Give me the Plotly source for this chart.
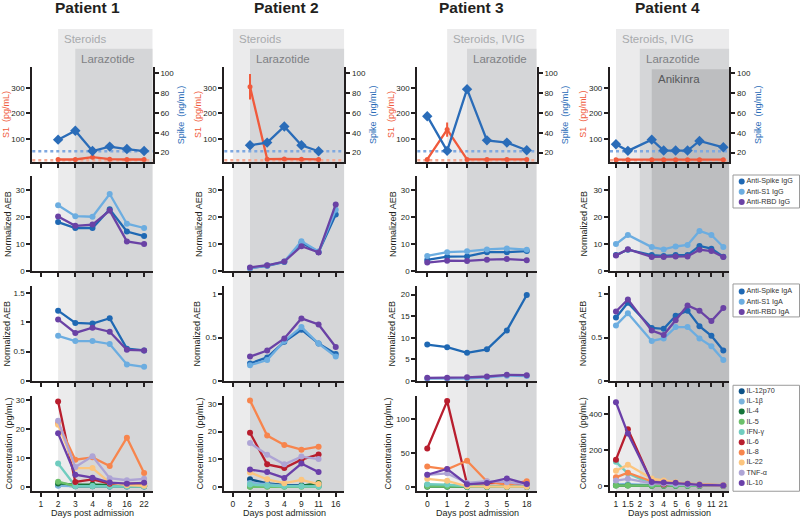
import plotly.graph_objects as go

W, H = 800, 522
FONT = "Liberation Sans, Arial, Helvetica, sans-serif"
INK = "#231f20"

# ---------------- data ----------------
patient_titles = ["Patient 1", "Patient 2", "Patient 3", "Patient 4"]
days_p1 = ["1", "2", "3", "4", "8", "16", "22"]
days_p2 = ["0", "2", "3", "4", "9", "11", "16"]
days_p3 = ["0", "1", "2", "3", "5", "18"]
days_p4 = ["1", "1.5", "2", "3", "4", "5", "6", "9", "11", "21"]

# treatment windows: (label, index of first day)
treat_p1 = [("Steroids", 1), ("Larazotide", 2)]
treat_p2 = [("Steroids", 0), ("Larazotide", 1)]
treat_p3 = [("Steroids, IVIG", 1), ("Larazotide", 2)]
treat_p4 = [("Steroids, IVIG", 0), ("Larazotide", 2), ("Anikinra", 3)]

# S1 (pg/mL) and Spike (ng/mL)
s1_p1 = [None, 18.6, 18.6, 27.5, 19.7, 18.6, 18.6]
s1_p2 = [None, 304, 20, 21, 20, 19, None]
s1_p3 = [19, 136, 19, 19, 19, 19]
s1_p4 = [18, 18, None, 18, 18, 18, 18, 18, None, 18]
s1_err_p1 = [0, 0, 0, 0, 0, 0, 0]
s1_err_p2 = [0, 50, 0, 0, 0, 0, 0]
s1_err_p3 = [0, 28, 0, 0, 0, 0]
s1_err_p4 = [0, 0, 0, 0, 0, 0, 0, 0, 0, 0]
spike_p1 = [None, 33, 42, 21.5, 26, 23.5, 21.5]
spike_p2 = [None, 27.3, 30, 46.3, 27.3, 21.3, None]
spike_p3 = [56.7, 21.7, 84, 32.3, 30, 22.3]
spike_p4 = [28.3, 21.7, None, 33, 22, 22, 22, 31.7, None, 25.3]
s1_lod = 16
spike_lod = 21.3

# IgG (normalized AEB): anti-Spike, anti-S1, anti-RBD
igg_spike_p1 = [None, 18.2, 16.0, 16.0, 23.0, 14.7, 13.0]
igg_s1_p1 = [None, 24.5, 20.4, 20.2, 28.7, 17.6, 16.0]
igg_rbd_p1 = [None, 20.3, 16.8, 17.3, 22.5, 11.0, 10.0]
igg_spike_p2 = [None, 1.0, 1.9, 3.3, 10.5, 7.0, 21.0]
igg_s1_p2 = [None, 1.0, 2.0, 3.5, 11.1, 7.2, 22.8]
igg_rbd_p2 = [None, 1.3, 2.1, 3.5, 9.2, 6.9, 24.8]
igg_spike_p3 = [4.1, 5.3, 5.4, 7.0, 7.0, 7.4]
igg_s1_p3 = [5.6, 7.0, 7.3, 8.0, 8.4, 7.9]
igg_rbd_p3 = [3.1, 3.8, 3.7, 4.2, 4.4, 4.0]
igg_spike_p4 = [5.9, 7.9, None, 5.9, 5.6, 5.9, 5.9, 9.3, 8.3, 5.3]
igg_s1_p4 = [10.0, 13.4, None, 8.9, 8.0, 9.1, 9.7, 14.9, 13.4, 8.9]
igg_rbd_p4 = [5.7, 8.1, None, 5.2, 5.2, 5.4, 5.4, 7.9, 7.4, 5.2]

# IgA (normalized AEB): anti-Spike, anti-S1, anti-RBD
iga_spike_p1 = [None, 1.20, 0.99, 0.98, 1.07, 0.55, 0.52]
iga_s1_p1 = [None, 0.77, 0.68, 0.68, 0.63, 0.28, 0.24]
iga_rbd_p1 = [None, 1.05, 0.82, 0.91, 0.84, 0.53, 0.52]
iga_spike_p2 = [None, 0.20, 0.27, 0.45, 0.59, 0.43, 0.31]
iga_s1_p2 = [None, 0.18, 0.24, 0.46, 0.62, 0.43, 0.28]
iga_rbd_p2 = [None, 0.28, 0.35, 0.49, 0.72, 0.65, 0.39]
iga_spike_p3 = [8.4, 7.8, 6.5, 7.3, 11.7, 19.9]
iga_s1_p3 = [0.5, 0.5, 0.6, 0.8, 1.2, 1.1]
iga_rbd_p3 = [0.7, 0.7, 0.8, 1.0, 1.4, 1.3]
iga_spike_p4 = [0.73, 0.90, None, 0.61, 0.60, 0.75, 0.81, 0.63, 0.52, 0.35]
iga_s1_p4 = [0.64, 0.78, None, 0.46, 0.49, 0.62, 0.62, 0.49, 0.40, 0.24]
iga_rbd_p4 = [0.80, 0.94, None, 0.58, 0.53, 0.70, 0.87, 0.81, 0.69, 0.84]

# Cytokines (pg/mL)
cytokine_names = ["IL-12p70", "IL-1β", "IL-4", "IL-5", "IFN-γ",
                  "IL-6", "IL-8", "IL-22", "TNF-α", "IL-10"]
cyt_p1 = [
    [None, 0.6, 0.2, 0.2, 0.1, 0.1, 0.1],
    [None, 0.4, 0.2, 0.2, 0.1, 0.1, 0.1],
    [None, 1.2, 0.8, 0.8, 0.6, 0.6, 0.6],
    [None, 1.8, 0.3, 0.3, 0.2, 0.2, 0.2],
    [None, 8.1, 0.3, 0.3, 0.2, 0.2, 0.2],
    [None, 29.5, 1.7, 2.6, 1.1, 1.0, 1.2],
    [None, 22.0, 9.4, 10.2, 7.2, 17.0, 4.8],
    [None, 21.5, 6.5, 6.5, 1.5, 0.6, 0.4],
    [None, 22.8, 6.9, 10.6, 3.0, 2.3, 2.8],
    [None, 18.5, 4.2, 3.2, 1.5, 1.1, 1.4],
]
cyt_p2 = [
    [None, 2.8, 1.3, 0.8, 0.7, 0.5, None],
    [None, 1.5, 0.9, 0.5, 0.4, 0.3, None],
    [None, 0.2, 0.3, 0.3, 0.4, 1.5, None],
    [None, 0.1, 0.1, 0.1, 0.1, 0.1, None],
    [None, 0.9, 0.5, 0.3, 0.3, 0.2, None],
    [None, 19.6, 8.2, 6.9, 9.9, 11.8, None],
    [None, 31.3, 18.6, 15.2, 13.5, 14.6, None],
    [None, 5.3, 2.8, 1.4, 2.6, 1.1, None],
    [None, 15.9, 11.7, 8.2, 11.0, 10.1, None],
    [None, 6.3, 5.4, 3.3, 8.5, 5.4, None],
]
cyt_p3 = [
    [2.5, 2.0, 0.5, 0.5, 0.5, 0.5],
    [3.0, 2.5, 0.5, 0.5, 0.5, 0.5],
    [0.5, 0.5, 0.3, 0.3, 0.3, 0.3],
    [1.0, 1.0, 0.5, 0.5, 0.5, 0.5],
    [4.0, 3.5, 1.0, 1.0, 1.0, 1.0],
    [56.5, 126.0, 4.5, 5.5, 6.5, 4.0],
    [30.0, 26.0, 38.5, 8.0, 3.0, 8.5],
    [12.0, 9.0, 1.0, 0.8, 0.5, 0.5],
    [18.0, 20.0, 6.0, 8.5, 7.0, 4.0],
    [18.0, 26.5, 4.0, 6.0, 12.5, 4.5],
]
cyt_p4 = [
    [5, 5, None, 3, 2, 2, 2, 1, None, 1],
    [8, 10, None, 4, 3, 3, 2, 2, None, 1],
    [2, 2, None, 1, 1, 1, 1, 1, None, 1],
    [2, 2, None, 1, 1, 1, 1, 1, None, 1],
    [135, 70, None, 12, 8, 6, 5, 4, None, 3],
    [147, 317, None, 20, 8, 15, 10, 5, None, 3],
    [48, 74, None, 25, 20, 15, 12, 8, None, 4],
    [85, 118, None, 41, 31, 20, 12, 6, None, 3],
    [30, 40, None, 15, 12, 10, 8, 5, None, 3],
    [468, 293, None, 22, 19, 18, 12, 6, None, 3],
]

# ---------------- styling ----------------
C_SPIKE = "#2a6cb8"
C_S1 = "#f05a3c"
C_SPIKE_LOD = "#7fa8e0"
C_S1_LOD = "#f7aa94"
ab_colors = ["#1f68b3", "#6cade0", "#6a42a5"]
cyt_colors = ["#0d5288", "#7cb3dd", "#17743a", "#6cc06a", "#70ccbf",
              "#b81e2e", "#f7854d", "#fcc57e", "#aea4d5", "#6a3fa9"]
shade_fill = ["#ebebec", "#d5d6d8", "#bdbec0"]
shade_text = ["#a8aaad", "#7f8184", "#57585b"]
shade_top_px = [29.3, 49.3, 70.0]
shade_label_px = [39.3, 59.3, 80.0]

days = [days_p1, days_p2, days_p3, days_p4]
treats = [treat_p1, treat_p2, treat_p3, treat_p4]
s1 = [s1_p1, s1_p2, s1_p3, s1_p4]
s1_err = [s1_err_p1, s1_err_p2, s1_err_p3, s1_err_p4]
spike = [spike_p1, spike_p2, spike_p3, spike_p4]
igg = [[igg_spike_p1, igg_s1_p1, igg_rbd_p1], [igg_spike_p2, igg_s1_p2, igg_rbd_p2],
       [igg_spike_p3, igg_s1_p3, igg_rbd_p3], [igg_spike_p4, igg_s1_p4, igg_rbd_p4]]
iga = [[iga_spike_p1, iga_s1_p1, iga_rbd_p1], [iga_spike_p2, iga_s1_p2, iga_rbd_p2],
       [iga_spike_p3, iga_s1_p3, iga_rbd_p3], [iga_spike_p4, iga_s1_p4, iga_rbd_p4]]
cyt = [cyt_p1, cyt_p2, cyt_p3, cyt_p4]

col_px = [(32.3, 152.7), (224.3, 344.3), (417.3, 536.7), (610.0, 729.3)]
row_px = [(68.0, 163.5), (178.0, 273.5), (288.3, 384.5), (399.5, 495.7)]
title_x_px = [87, 286, 471, 667]

s1_range = [9, 380]
spike_range = [10.5, 106]
igg_range = [0, 35.3]
iga_ranges = [[0, 1.63], [0, 1.1], [0, 22.1], [0, 1.1]]
iga_ticks = [[0, 0.5, 1, 1.5], [0, 0.5, 1], [0, 5, 10, 15, 20], [0, 0.5, 1]]
cyt_ranges = [[-1.4, 31.5], [-1.4, 33], [-5.8, 134], [-28, 505]]
cyt_ticks = [[0, 10, 20, 30], [0, 10, 20, 30], [0, 50, 100], [0, 200, 400]]
ytitle_off = [[-27, -27, -27, -27], [-25, -26, -25, -26],
              [-25, -27, -25, -27], [-23, -24, -29, -27]]


def xd(c):
    return [col_px[c][0] / W, col_px[c][1] / W]


def yd(r):
    return [1 - row_px[r][1] / H, 1 - row_px[r][0] / H]


def aid(letter, k):
    return letter if k == 1 else f"{letter}{k}"


def akey(letter, k):
    return f"{letter}axis" if k == 1 else f"{letter}axis{k}"


fig = go.Figure()
layout = dict(
    width=W, height=H, margin=dict(l=0, r=0, t=0, b=0),
    paper_bgcolor="white", plot_bgcolor="rgba(0,0,0,0)",
    font=dict(family=FONT, color=INK), showlegend=False,
)
shapes, annotations = [], []

axis_common = dict(showline=True, linecolor=INK, linewidth=2.2, ticks="outside",
                   ticklen=4, tickwidth=2, tickcolor=INK, showgrid=False,
                   zeroline=False, fixedrange=True)


def line_trace(x, y, color, xa, ya, symbol="circle", size=6, err=None):
    t = go.Scatter(x=x, y=y, mode="lines+markers", connectgaps=True,
                   line=dict(color=color, width=2.3),
                   marker=dict(color=color, size=size, symbol=symbol),
                   xaxis=xa, yaxis=ya, hoverinfo="skip", cliponaxis=False)
    if err is not None:
        t.error_y = dict(type="data", array=err, width=0, thickness=2, color=color)
    return t


for c in range(4):
    n = len(days[c])
    xs = list(range(n))
    for r in range(4):
        k = r * 4 + c + 1
        xa = dict(axis_common, domain=xd(c), range=[-0.5, n - 0.5], anchor=aid("y", k),
                  tickvals=xs, ticktext=days[c], showticklabels=(r == 3), tickangle=0,
                  tickfont=dict(size=8.5, color=INK))
        layout[akey("x", k)] = xa
        if r == 0:
            yr, yt = s1_range, [100, 200, 300]
        elif r == 1:
            yr, yt = igg_range, [0, 10, 20, 30]
        elif r == 2:
            yr, yt = iga_ranges[c], iga_ticks[c]
        else:
            yr, yt = cyt_ranges[c], cyt_ticks[c]
        layout[akey("y", k)] = dict(axis_common, domain=yd(r), range=yr, anchor=aid("x", k),
                                    tickvals=yt, tickfont=dict(size=8, color=INK))
    # spike axis (right)
    ks = 17 + c
    layout[akey("y", ks)] = dict(axis_common, overlaying=aid("y", c + 1), side="right",
                                 anchor=aid("x", c + 1), range=spike_range,
                                 tickvals=[20, 40, 60, 80, 100],
                                 tickfont=dict(size=8, color=INK))

    # row 1 traces
    fig.add_trace(line_trace(xs, s1[c], C_S1, aid("x", c + 1), aid("y", c + 1), size=5,
                             err=s1_err[c]))
    fig.add_trace(line_trace(xs, spike[c], C_SPIKE, aid("x", c + 1), aid("y", ks),
                             symbol="diamond", size=8))
    # IgG
    for j in range(3):
        fig.add_trace(line_trace(xs, igg[c][j], ab_colors[j], aid("x", 5 + c), aid("y", 5 + c)))
    # IgA
    for j in range(3):
        fig.add_trace(line_trace(xs, iga[c][j], ab_colors[j], aid("x", 9 + c), aid("y", 9 + c)))
    # cytokines
    for j in range(10):
        fig.add_trace(line_trace(xs, cyt[c][j], cyt_colors[j], aid("x", 13 + c), aid("y", 13 + c)))

    # treatment shading
    for lvl, (label, start) in enumerate(treats[c]):
        shapes.append(dict(type="rect", xref=aid("x", 13 + c), yref="paper",
                           x0=start, x1=n - 0.5, y0=1 - row_px[3][1] / H,
                           y1=1 - shade_top_px[lvl] / H, fillcolor=shade_fill[lvl],
                           line=dict(width=0), layer="below"))
        annotations.append(dict(text=label, xref=aid("x", 13 + c), yref="paper",
                                x=start, y=1 - shade_label_px[lvl] / H, xanchor="left",
                                yanchor="middle", xshift=4, showarrow=False,
                                font=dict(size=11.5, color=shade_text[lvl])))

    # detection limits
    shapes.append(dict(type="line", xref=aid("x", c + 1) + " domain", yref=aid("y", c + 1),
                       x0=0, x1=1, y0=s1_lod, y1=s1_lod, layer="below",
                       line=dict(color=C_S1_LOD, width=2.5, dash="dot")))
    shapes.append(dict(type="line", xref=aid("x", c + 1) + " domain", yref=aid("y", ks),
                       x0=0, x1=1, y0=spike_lod, y1=spike_lod, layer="below",
                       line=dict(color=C_SPIKE_LOD, width=2.5, dash="dot")))

    # titles
    annotations.append(dict(text=f"<b>{patient_titles[c]}</b>", xref="paper", yref="paper",
                            x=title_x_px[c] / W, y=1 - 8 / H, xanchor="center",
                            yanchor="middle", showarrow=False,
                            font=dict(size=15.5, color=INK)))
    annotations.append(dict(text="Days post admission", xref=aid("x", 13 + c) + " domain",
                            yref="paper", x=0.5, y=1 - 517.5 / H, xanchor="center",
                            yanchor="middle", showarrow=False, font=dict(size=9, color=INK)))
    ytitles = [("S1  (pg/mL)", C_S1), ("Normalized AEB", INK), ("Normalized AEB", INK),
               ("Concentration  (pg/mL)", INK)]
    for r in range(4):
        k = r * 4 + c + 1
        annotations.append(dict(text=ytitles[r][0], xref=aid("x", k) + " domain",
                                yref=aid("y", k) + " domain", x=0, y=0.5,
                                xshift=ytitle_off[r][c], textangle=-90, xanchor="center",
                                yanchor="middle", showarrow=False,
                                font=dict(size=9, color=ytitles[r][1])))
    annotations.append(dict(text="Spike  (ng/mL)", xref=aid("x", c + 1) + " domain",
                            yref=aid("y", c + 1) + " domain", x=1, y=0.5, xshift=28,
                            textangle=-90, xanchor="center", yanchor="middle",
                            showarrow=False, font=dict(size=9, color=C_SPIKE)))

# ---------------- manual legends ----------------
legend_specs = [
    (["Anti-Spike IgG", "Anti-S1 IgG", "Anti-RBD IgG"], ab_colors, 176.7, 210.0, 183.3, 10.35),
    (["Anti-Spike IgA", "Anti-S1 IgA", "Anti-RBD IgA"], ab_colors, 286.7, 320.0, 294.3, 10.35),
    (cytokine_names, cyt_colors, 389.0, 496.0, 395.0, 10.3),
]
for i, (names, cols, top, bot, first, step) in enumerate(legend_specs):
    k = 21 + i
    nn = len(names)
    layout[akey("x", k)] = dict(domain=[733 / W, 1.0], range=[0, 1], visible=False,
                                anchor=aid("y", k), fixedrange=True)
    layout[akey("y", k)] = dict(domain=[1 - bot / H, 1 - top / H],
                                range=[nn - 1 + (bot - (first + (nn - 1) * step)) / step,
                                       -(first - top) / step],
                                visible=False, anchor=aid("x", k), fixedrange=True)
    fig.add_trace(go.Scatter(x=[0.13] * nn, y=list(range(nn)), mode="markers+text",
                             text=names, textposition="middle right",
                             textfont=dict(size=7.2, color="#333333"),
                             marker=dict(color=cols, size=6),
                             xaxis=aid("x", k), yaxis=aid("y", k), hoverinfo="skip",
                             cliponaxis=False))
    shapes.append(dict(type="rect", xref="paper", yref="paper", x0=733 / W, x1=799.5 / W,
                       y0=1 - bot / H, y1=1 - top / H, fillcolor="white",
                       line=dict(color="#9a9a9a", width=1), layer="below"))

layout["shapes"] = shapes
layout["annotations"] = annotations
fig.update_layout(layout)
fig.write_html("out.html", config={"displayModeBar": False},
               post_script="document.body.style.margin='0';")
